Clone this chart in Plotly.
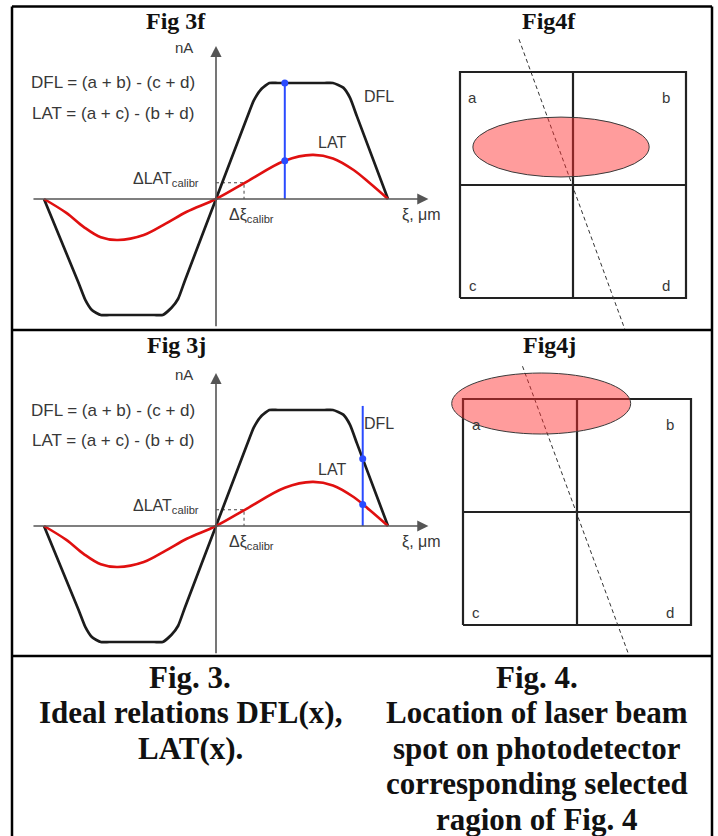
import numpy as np
import plotly.graph_objects as go

W, H = 718, 836

# Ideal response curves, ξ normalised to the half-width of the response (arb. units)
xi_dfl = [-1.0, -0.80, -0.76, -0.72, -0.67, -0.62, -0.36, -0.31, -0.26, -0.22, -0.18, 0.0,
          0.18, 0.22, 0.265, 0.31, 0.36, 0.63, 0.68, 0.74, 0.78, 0.82, 1.0]
dfl = [0.0, -0.72, -0.87, -0.96, -1.0, -1.0, -1.0, -1.0, -0.94, -0.86, -0.70, 0.0,
       0.70, 0.85, 0.95, 1.0, 1.0, 1.0, 1.0, 0.96, 0.87, 0.71, 0.0]

xi_lat = [-1.0, -0.87, -0.77, -0.67, -0.57, -0.42, -0.29, -0.17, 0.0, 0.18, 0.40, 0.56, 0.68, 0.80, 0.895, 1.0]
lat = [0.0, -0.12, -0.24, -0.33, -0.353, -0.31, -0.21, -0.11, 0.0, 0.15, 0.33, 0.38, 0.35, 0.25, 0.135, 0.0]

# calibration step
xi_cal, lat_cal = 0.163, 0.14

# selected beam positions (ξ) and top of the marker line for each panel
sel_xi = {"f": 0.40, "j": 0.853}
sel_top = {"f": 1.0, "j": 1.035}

# beam spot on the quadrant photodetector (detector half-size = 1)
spot = {
    "f": dict(cx=-0.106, cy=0.336, rx=0.78, ry=0.265),
    "j": dict(cx=-0.314, cy=0.960, rx=0.785, ry=0.27),
}
scan_x = [-0.478, 0.46]
scan_y = [1.29, -1.28]
quad_labels = ["a", "b", "c", "d"]
quad_lx = [-0.885, 0.82, -0.885, 0.82]
quad_ly = [0.77, 0.77, -0.885, -0.885]

panel_titles = {"3f": "Fig 3f", "3j": "Fig 3j", "4f": "Fig4f", "4j": "Fig4j"}
caption_left = ["Fig. 3.", "Ideal relations DFL(x),", "LAT(x)."]
caption_right = ["Fig. 4.", "Location of laser beam", "spot on photodetector",
                 "corresponding selected", "ragion of Fig. 4"]

SANS = "Liberation Sans, Arial, sans-serif"
SERIF = "Liberation Serif, Times New Roman, serif"
TXT = "#383838"

fig = go.Figure()
layout_axes = {}
annotations = []
shapes = []


def add_axes(n, box, origin, sx, sy):
    x0, x1, y0, y1 = box
    ox, oy = origin
    s = "" if n == 1 else str(n)
    layout_axes["xaxis" + s] = dict(domain=[x0 / W, x1 / W], range=[(x0 - ox) / sx, (x1 - ox) / sx],
                                    visible=False, fixedrange=True, anchor="y" + s)
    layout_axes["yaxis" + s] = dict(domain=[1 - y1 / H, 1 - y0 / H], range=[(oy - y1) / sy, (oy - y0) / sy],
                                    visible=False, fixedrange=True, anchor="x" + s)
    return "x" + s, "y" + s


def fig3_panel(xr, yr, key):
    # axes with arrows
    annotations.append(dict(x=1.235, y=0, ax=-1.07, ay=0, xref=xr, yref=yr, axref=xr, ayref=yr,
                            text="", showarrow=True, arrowhead=2, arrowsize=1.4, arrowwidth=1.6,
                            arrowcolor="#555555", standoff=0))
    annotations.append(dict(x=0, y=1.32, ax=0, ay=-1.11, xref=xr, yref=yr, axref=xr, ayref=yr,
                            text="", showarrow=True, arrowhead=2, arrowsize=1.4, arrowwidth=1.6,
                            arrowcolor="#555555", standoff=0))
    # calibration guides
    fig.add_trace(go.Scatter(x=[0, xi_cal, xi_cal], y=[lat_cal, lat_cal, 0], mode="lines",
                             line=dict(color="#444444", width=1, dash="3px,3px"),
                             xaxis=xr, yaxis=yr, hoverinfo="skip", showlegend=False))
    # DFL and LAT curves
    fig.add_trace(go.Scatter(x=xi_dfl, y=dfl, mode="lines", line=dict(color="#1c1c1c", width=2.7,
                             shape="spline", smoothing=0.5), xaxis=xr, yaxis=yr, showlegend=False))
    fig.add_trace(go.Scatter(x=xi_lat, y=lat, mode="lines", line=dict(color="#e01010", width=2.6,
                             shape="spline", smoothing=1.0), xaxis=xr, yaxis=yr, showlegend=False))
    # selected position
    xs = sel_xi[key]
    fig.add_trace(go.Scatter(x=[xs, xs], y=[0, sel_top[key]], mode="lines",
                             line=dict(color="#2a4bff", width=2), xaxis=xr, yaxis=yr, showlegend=False))
    fig.add_trace(go.Scatter(x=[xs, xs], y=[float(np.interp(xs, xi_dfl, dfl)), float(np.interp(xs, xi_lat, lat))],
                             mode="markers", marker=dict(color="#2a4bff", size=7),
                             xaxis=xr, yaxis=yr, showlegend=False))
    # text
    def t(x, y, text, size, xanchor="left", color=TXT):
        annotations.append(dict(x=x, y=y, xref=xr, yref=yr, text=text, showarrow=False,
                                xanchor=xanchor, yanchor="middle",
                                font=dict(family=SANS, size=size, color=color)))
    t(-0.125, 1.31, "nA", 15, "right")
    t(-1.085, 1.0, "DFL = (a + b) - (c + d)", 17)
    t(-1.08, 0.74, "LAT = (a + c) - (b + d)", 17)
    t(0.848, 0.885, "DFL", 16)
    t(0.582, 0.49, "LAT", 16)
    t(-0.09, 0.165, "ΔLAT<sub>calibr</sub>", 16, "right")
    t(0.065, -0.14, "Δξ<sub>calibr</sub>", 16)
    t(1.07, -0.14, "ξ, μm", 16)


def fig4_panel(xr, yr, key):
    # quadrant photodetector
    for xx, yy in (([-1, 1, 1, -1, -1], [-1, -1, 1, 1, -1]), ([0, 0], [-1, 1]), ([-1, 1], [0, 0])):
        fig.add_trace(go.Scatter(x=xx, y=yy, mode="lines", line=dict(color="#222222", width=2.2),
                                 xaxis=xr, yaxis=yr, hoverinfo="skip", showlegend=False))
    fig.add_trace(go.Scatter(x=scan_x, y=scan_y, mode="lines",
                             line=dict(color="#333333", width=1, dash="4px,3px"),
                             xaxis=xr, yaxis=yr, hoverinfo="skip", showlegend=False))
    for lab, lx, ly in zip(quad_labels, quad_lx, quad_ly):
        annotations.append(dict(x=lx, y=ly, xref=xr, yref=yr, text=lab, showarrow=False,
                                xanchor="center", yanchor="middle",
                                font=dict(family=SANS, size=15, color=TXT)))
    sp = spot[key]
    shapes.append(dict(type="circle", xref=xr, yref=yr, layer="above",
                       x0=sp["cx"] - sp["rx"], x1=sp["cx"] + sp["rx"],
                       y0=sp["cy"] - sp["ry"], y1=sp["cy"] + sp["ry"],
                       fillcolor="rgba(255,45,45,0.47)", line=dict(color="#3a3a3a", width=1)))


xa, ya = add_axes(1, (20, 445, 35, 329), (216, 199), 172, 116)
fig3_panel(xa, ya, "f")
xa, ya = add_axes(2, (20, 445, 360, 655), (216, 526), 172, 116)
fig3_panel(xa, ya, "j")
xa, ya = add_axes(3, (445, 710, 30, 329), (573, 185), 113, 113)
fig4_panel(xa, ya, "f")
xa, ya = add_axes(4, (445, 710, 358, 654), (577, 512), 114, 113)
fig4_panel(xa, ya, "j")


def paper_text(px, py, text, size):
    annotations.append(dict(x=px / W, y=1 - py / H, xref="paper", yref="paper", text=text,
                            showarrow=False, xanchor="center", yanchor="middle",
                            font=dict(family=SERIF, size=size, color="#111111")))


paper_text(176, 21, "<b>" + panel_titles["3f"] + "</b>", 24)
paper_text(549, 21, "<b>" + panel_titles["4f"] + "</b>", 24)
paper_text(176, 345, "<b>" + panel_titles["3j"] + "</b>", 24)
paper_text(549, 345, "<b>" + panel_titles["4j"] + "</b>", 24)

for i, line in enumerate(caption_left):
    paper_text(190, 677 + 35.5 * i, "<b>" + line + "</b>", 31)
for i, line in enumerate(caption_right):
    paper_text(537, 677 + 35.5 * i, "<b>" + line + "</b>", 31)

# table frame
for (x0, y0, x1, y1) in [(12, 6.5, 712, 6.5), (12, 6.5, 12, 836), (712, 6.5, 712, 836),
                         (12, 330, 712, 330), (12, 656, 712, 656)]:
    shapes.append(dict(type="line", xref="paper", yref="paper", x0=x0 / W, x1=x1 / W,
                       y0=1 - y0 / H, y1=1 - y1 / H, line=dict(color="black", width=2.5)))

fig.update_layout(width=W, height=H, margin=dict(l=0, r=0, t=0, b=0),
                  paper_bgcolor="white", plot_bgcolor="rgba(0,0,0,0)",
                  showlegend=False, annotations=annotations, shapes=shapes, **layout_axes)
fig.write_html("out.html")
